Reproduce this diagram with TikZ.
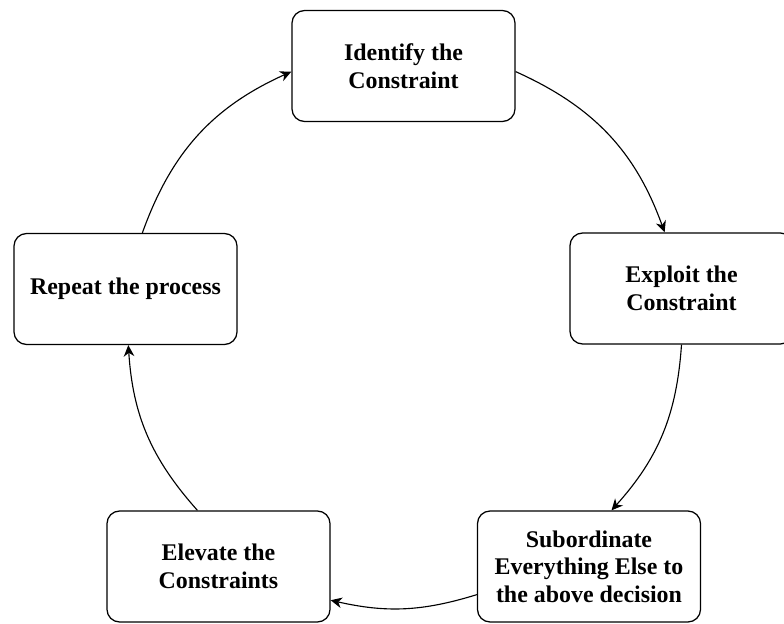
\documentclass[tikz,border=0pt]{standalone}
\usepackage{fontspec}
\setmainfont{Liberation Serif}
\usepackage{tikz}
\usetikzlibrary{positioning,arrows.meta}

\tikzset{
  stepbox/.style={draw, line width=0.9pt, rounded corners=9pt, fill=white,
    minimum width=5.575cm, minimum height=2.775cm, align=center,
    font=\fontsize{17}{19.5}\selectfont\bfseries, inner sep=2pt},
  flow/.style={-{Stealth[length=8pt, width=7.5pt, inset=2.5pt]}, line width=0.8pt}
}

\begin{document}
\begin{tikzpicture}[x=0.025cm, y=-0.025cm]
  \useasboundingbox (0, 0) rectangle (784, 624);

  % Steps of the cycle
  \node[stepbox] (ident) at (403.5, 66) {Identify the\\Constraint};
  \node[stepbox] (exploit) at (681.5, 288.5) {Exploit the\\Constraint};
  \node[stepbox] (subord) at (589, 566.5)
    {Subordinate\\Everything Else to\\the above decision};
  \node[stepbox] (elev) at (218.5, 566.5) {Elevate the\\Constraints};
  \node[stepbox] (repeat) at (125.5, 289) {Repeat the process};

  % Arcs between the steps
  \draw[flow] ([yshift=-4pt]ident.east) to[bend left=23]
    ([xshift=-12pt]exploit.north);
  \draw[flow] (exploit.south) to[bend left=19]
    ([xshift=16pt]subord.north);
  \draw[flow] ([yshift=-20pt]subord.west) to[bend left=15]
    ([yshift=-24pt]elev.east);
  \draw[flow] ([xshift=-15pt]elev.north) to[bend left=19]
    ([xshift=2pt]repeat.south);
  \draw[flow] ([xshift=12pt]repeat.north) to[bend left=23]
    ([yshift=-4pt]ident.west);
\end{tikzpicture}
\end{document}
